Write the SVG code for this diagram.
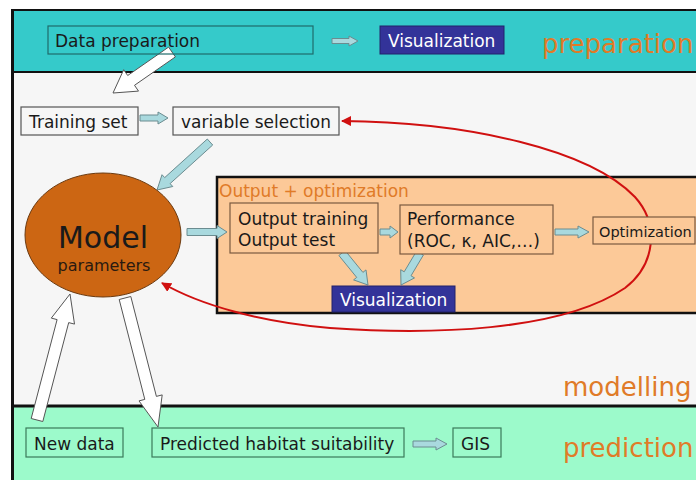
<svg xmlns="http://www.w3.org/2000/svg" width="696" height="480" viewBox="0 0 696 480">
<defs>
<style>
text{font-family:"DejaVu Sans","Verdana",sans-serif;font-size:17px;fill:#1a1a1a}
.lbl{font-size:26px;fill:#E07B28}
.tbox{fill:none;stroke:#1f6b6b;stroke-width:1.2}
.mbox{fill:none;stroke:#555;stroke-width:1.2}
.pbox{fill:#FCC998;stroke:#7a5a40;stroke-width:1.2}
.gbox{fill:none;stroke:#3b7a5a;stroke-width:1.2}
.vis{fill:#333399;stroke:#22226a;stroke-width:1}
.vt{fill:#fff}
.blue{fill:#A9D9DE;stroke:#6b8c90;stroke-width:1}
.white{fill:#fff;stroke:#555;stroke-width:1}
.red{fill:none;stroke:#D01010;stroke-width:2}
</style>
<marker id="rh" viewBox="0 0 10 10" refX="9" refY="5" markerWidth="5" markerHeight="5" orient="auto-start-reverse" markerUnits="strokeWidth">
<path d="M0,0 L10,5 L0,10 z" fill="#D01010"/>
</marker>
</defs>
<g id="background">
<rect x="0" y="0" width="696" height="480" fill="#fff"/>
<rect x="12" y="10" width="684" height="62" fill="#35CACA"/>
<rect x="12" y="72" width="684" height="334" fill="#F6F6F6"/>
<rect x="12" y="406" width="684" height="74" fill="#9CFACB"/>
<line x1="12" y1="10" x2="696" y2="10" stroke="#111" stroke-width="2"/>
<line x1="12" y1="72" x2="696" y2="72" stroke="#111" stroke-width="2"/>
<line x1="12" y1="406" x2="696" y2="406" stroke="#111" stroke-width="3"/>
<line x1="12.5" y1="9" x2="12.5" y2="480" stroke="#111" stroke-width="3"/>
<text class="lbl" x="542" y="53">preparation</text>
<text class="lbl" x="563" y="396">modelling</text>
<text class="lbl" x="563" y="457">prediction</text>
</g>
<g id="output-optimization">
<rect x="217" y="177" width="484" height="136" fill="#FCC998" stroke="#111" stroke-width="2.5"/>
<text x="219" y="197" style="fill:#E07B28">Output + optimization</text>
</g>
<g id="connectors">
<polygon class="blue" points="332,38.5 349,38.5 349,36 358,41 349,46 349,43.5 332,43.5"/>
<polygon class="blue" points="140,115 158,115 158,112 168,118 158,124 158,121 140,121"/>
<polygon class="blue" points="187,228.5 217,228.5 217,225.5 227,232 217,238.5 217,235.5 187,235.5"/>
<polygon class="blue" points="380,229 390,229 390,226 398,232 390,238 390,235 380,235"/>
<polygon class="blue" points="555,229 578,229 578,226 589,232 578,238 578,235 555,235"/>
<polygon class="blue" points="413,441 436,441 436,438 447,444 436,450 436,447 413,447"/>
<polygon class="blue" points="212.7,145 170.1,183.6 172.8,186.5 157,190 162,174.7 164.7,177.6 207.3,139"/>
<polygon class="blue" points="338.9,255.5 356.7,277.4 353.6,279.9 368,285 366,269.9 362.9,272.4 345.1,250.5"/>
<polygon class="blue" points="416.6,251 404.2,271.8 400.7,269.7 401,285 414.5,277.9 411,275.8 423.4,255"/>
<polygon class="white" points="175.4,56.9 134.5,85.3 138.5,91.1 113,93 123.7,69.7 127.7,75.5 168.6,47.1"/>
<polygon class="white" points="42.8,421.5 68.7,322.6 74.5,324.1 70,294 51.3,318.1 57.1,319.6 31.2,418.5"/>
<polygon class="white" points="119.2,299.5 144.8,399.4 139,400.9 158,427 162.2,394.9 156.4,396.4 130.8,296.5"/>
<path class="red" d="M342,121 C470,122 590,150 635,197 C660,225 655,265 625,288 C560,332 430,335 330,328 C260,322 200,305 162,283" marker-start="url(#rh)" marker-end="url(#rh)"/>
</g>
<g id="data-preparation">
<rect class="tbox" x="48" y="26" width="265" height="28"/>
<text x="55" y="47">Data preparation</text>
</g>
<g id="visualization-top">
<rect class="vis" x="380" y="26" width="124" height="28"/>
<text class="vt" x="388" y="47">Visualization</text>
</g>
<g id="training-set">
<rect class="mbox" x="21" y="107" width="117" height="28"/>
<text x="29" y="128">Training set</text>
</g>
<g id="variable-selection">
<rect class="mbox" x="173" y="107" width="166" height="28"/>
<text x="181" y="128" textLength="150" lengthAdjust="spacingAndGlyphs">variable selection</text>
</g>
<g id="model">
<ellipse cx="103" cy="235" rx="78" ry="62" fill="#CC6613" stroke="#6b3a10" stroke-width="1"/>
<text x="103" y="248" text-anchor="middle" style="font-size:30px">Model</text>
<text x="104" y="271" text-anchor="middle" style="font-size:16px;fill:#2a1a10">parameters</text>
</g>
<g id="output-training">
<rect class="pbox" x="230" y="203" width="148" height="50"/>
<text x="238" y="225">Output training</text>
<text x="238" y="246">Output test</text>
</g>
<g id="performance">
<rect class="pbox" x="400" y="205" width="153" height="49"/>
<text x="407" y="225">Performance</text>
<text x="407" y="247">(ROC, κ, AIC,…)</text>
</g>
<g id="optimization">
<rect class="pbox" x="593" y="217" width="102" height="27"/>
<text x="599" y="237" style="font-size:14.5px">Optimization</text>
</g>
<g id="visualization-inner">
<rect class="vis" x="332" y="286" width="123" height="26"/>
<text class="vt" x="340" y="306">Visualization</text>
</g>
<g id="new-data">
<rect class="gbox" x="26" y="428" width="97" height="29"/>
<text x="34" y="450">New data</text>
</g>
<g id="predicted">
<rect class="gbox" x="152" y="428" width="252" height="29"/>
<text x="160" y="450">Predicted habitat suitability</text>
</g>
<g id="gis">
<rect class="gbox" x="453" y="428" width="48" height="29"/>
<text x="461" y="450">GIS</text>
</g>
</svg>
